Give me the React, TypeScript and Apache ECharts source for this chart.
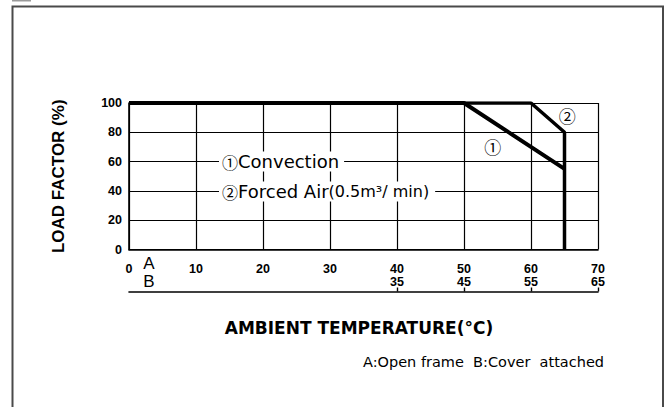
import React, { useEffect, useRef } from "react";
import * as echarts from "echarts";

// ---- data ----
const xMin = 0;
const xMax = 70;
const xStep = 10;
const yMin = 0;
const yMax = 100;
const yStep = 20;
const bScaleAt = [40, 50, 60, 70]; // positions on scale A
const bScaleLabels = ["35", "45", "55", "65"]; // matching B (cover attached) temperatures
const convection: number[][] = [
  [0, 100],
  [50, 100],
  [65, 55],
];
const forcedAir: number[][] = [
  [0, 100],
  [60, 100],
  [65, 80],
  [65, 0],
];
const convectionTag = { label: "①", at: [54.3, 70] };
const forcedTag = { label: "②", at: [65.4, 91.8] };
const legendConvection = ["①", "Convection"];
const legendForced = ["②", "Forced Air", "(0.5m³/ min)"];
const yName = "LOAD FACTOR (%)";
const xName = "AMBIENT TEMPERATURE(°C)";
const footNote = "A:Open frame  B:Cover  attached";

const tickFont = "'Liberation Sans Narrow', 'Liberation Sans', Arial, sans-serif";
const circFont = "'Noto Sans CJK JP', 'DejaVu Sans', sans-serif";

export default function App() {
  const ref = useRef<HTMLDivElement>(null);
  useEffect(() => {
    if (!ref.current) return;
    const chart = echarts.init(ref.current, null, { renderer: "svg" });
    chart.setOption({
      animation: false,
      backgroundColor: "#ffffff",
      grid: { left: 129, right: 70, top: 103, bottom: 157.5 },
      xAxis: [
        {
          type: "value",
          min: xMin,
          max: xMax,
          interval: xStep,
          position: "bottom",
          axisLine: { show: true, lineStyle: { color: "#000", width: 1.6 } },
          axisTick: { show: false },
          splitLine: { show: true, lineStyle: { color: "#000", width: 1.2 } },
          axisLabel: {
            margin: 13,
            color: "#000",
            fontFamily: tickFont,
            fontWeight: "bold",
            fontSize: 12.5,
            lineHeight: 12,
          },
        },
        {
          type: "value",
          min: xMin,
          max: xMax,
          interval: xStep,
          position: "bottom",
          offset: 42,
          axisLine: { show: true, lineStyle: { color: "#000", width: 1.6 } },
          axisTick: {
            show: true,
            inside: true,
            length: 4,
            customValues: bScaleAt,
            lineStyle: { color: "#000", width: 1.4 },
          },
          splitLine: { show: false },
          axisLabel: {
            show: true,
            inside: true,
            margin: 4,
            customValues: bScaleAt,
            formatter: (v: number) => {
              const i = bScaleAt.indexOf(v);
              return i >= 0 ? bScaleLabels[i] : "";
            },
            color: "#000",
            fontFamily: tickFont,
            fontWeight: "bold",
            fontSize: 12.5,
            lineHeight: 12,
          },
        },
      ],
      yAxis: {
        type: "value",
        min: yMin,
        max: yMax,
        interval: yStep,
        name: yName,
        nameLocation: "middle",
        nameRotate: 90,
        nameGap: 62,
        nameTextStyle: {
          color: "#000",
          fontFamily: "'Liberation Sans', Arial, sans-serif",
          fontWeight: "bold",
          fontSize: 17,
        },
        axisLine: { show: true, lineStyle: { color: "#000", width: 1.6 } },
        axisTick: { show: false },
        splitLine: { show: true, lineStyle: { color: "#000", width: 1.2 } },
        axisLabel: {
          margin: 7,
          color: "#000",
          fontFamily: tickFont,
          fontWeight: "bold",
          fontSize: 12.5,
        },
      },
      series: [
        {
          name: "Convection",
          type: "line",
          xAxisIndex: 0,
          data: convection,
          showSymbol: false,
          symbol: "none",
          lineStyle: { color: "#000", width: 4 },
          markPoint: {
            symbol: "circle",
            symbolSize: 0,
            label: {
              show: true,
              formatter: convectionTag.label,
              color: "#000",
              fontSize: 17,
              fontFamily: circFont,
            },
            data: [{ coord: convectionTag.at }],
          },
        },
        {
          name: "Forced Air",
          type: "line",
          xAxisIndex: 0,
          data: forcedAir,
          showSymbol: false,
          symbol: "none",
          lineStyle: { color: "#000", width: 3.5 },
          markPoint: {
            symbol: "circle",
            symbolSize: 0,
            label: {
              show: true,
              formatter: forcedTag.label,
              color: "#000",
              fontSize: 17,
              fontFamily: circFont,
            },
            data: [{ coord: forcedTag.at }],
          },
        },
      ],
      graphic: [
        {
          type: "rect",
          shape: { x: 12.5, y: 6.5, width: 650.5, height: 460 },
          style: { fill: "none", stroke: "#4a4a4a", lineWidth: 2 },
          z: 100,
        },
        {
          type: "rect",
          shape: { x: 12, y: -8, width: 19, height: 9.5 },
          style: { fill: "#9a9a9a" },
        },
        {
          type: "text",
          x: 149,
          y: 263,
          style: {
            text: "A",
            fill: "#000",
            font: "17px 'Liberation Sans', Arial, sans-serif",
            textAlign: "center",
            textVerticalAlign: "middle",
          },
        },
        {
          type: "text",
          x: 149,
          y: 281,
          style: {
            text: "B",
            fill: "#000",
            font: "17px 'Liberation Sans', Arial, sans-serif",
            textAlign: "center",
            textVerticalAlign: "middle",
          },
        },
        {
          type: "text",
          x: 219,
          y: 161.5,
          z: 50,
          style: {
            text: "{c|" + legendConvection[0] + "}{a|" + legendConvection[1] + "}",
            textVerticalAlign: "middle",
            backgroundColor: "#fff",
            padding: [1, 5, 1, 3],
            rich: {
              c: { fill: "#000", fontSize: 16, fontFamily: circFont },
              a: { fill: "#000", fontSize: 18, fontFamily: "'DejaVu Sans', sans-serif" },
            },
          },
        },
        {
          type: "text",
          x: 219,
          y: 191.5,
          z: 50,
          style: {
            text:
              "{c|" + legendForced[0] + "}{a|" + legendForced[1] + "}{b|" + legendForced[2] + "}",
            textVerticalAlign: "middle",
            backgroundColor: "#fff",
            padding: [1, 6, 1, 3],
            rich: {
              c: { fill: "#000", fontSize: 16, fontFamily: circFont },
              a: { fill: "#000", fontSize: 18, fontFamily: "'DejaVu Sans', sans-serif" },
              b: { fill: "#000", fontSize: 16, fontFamily: "'DejaVu Sans', sans-serif" },
            },
          },
        },
        {
          type: "text",
          x: 359,
          y: 328,
          style: {
            text: xName,
            fill: "#000",
            font: "bold 17px 'DejaVu Sans', sans-serif",
            textAlign: "center",
            textVerticalAlign: "middle",
          },
        },
        {
          type: "text",
          x: 363,
          y: 362,
          style: {
            text: footNote,
            fill: "#000",
            font: "14.5px 'DejaVu Sans', sans-serif",
            textAlign: "left",
            textVerticalAlign: "middle",
          },
        },
      ],
    });
    return () => chart.dispose();
  }, []);
  return (
    <div
      ref={ref}
      style={{ position: "fixed", left: 0, top: 0, width: 668, height: 407, background: "#fff" }}
    />
  );
}
